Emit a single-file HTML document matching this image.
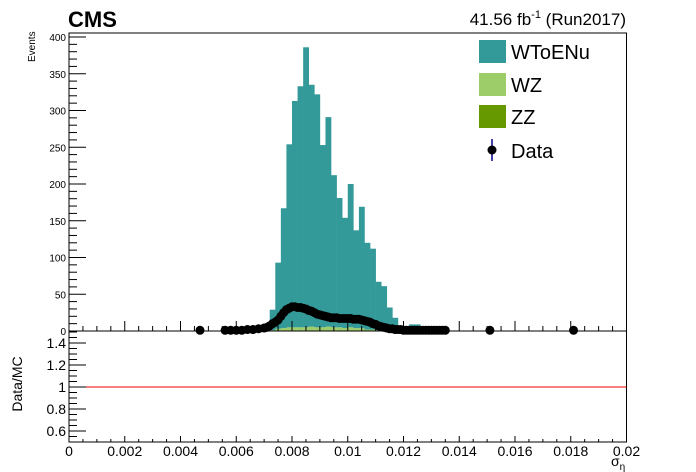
<!DOCTYPE html>
<html><head><meta charset="utf-8"><style>
html,body{margin:0;padding:0;background:#fff}
svg{display:block;font-family:"Liberation Sans",sans-serif}
</style></head><body>
<svg id="c" width="696" height="472" viewBox="0 0 696 472" xmlns="http://www.w3.org/2000/svg">
<text x="68" y="27" font-size="22" font-weight="bold">CMS</text>
<text x="626" y="25" font-size="17" text-anchor="end">41.56 fb<tspan dy="-7" font-size="11">-1</tspan><tspan dy="7"> (Run2017)</tspan></text>
<text transform="translate(35,62) rotate(-90)" font-size="10">Events</text>
<text transform="translate(22,384) rotate(-90)" font-size="14" text-anchor="middle">Data/MC</text>
<text x="611" y="466" font-size="14">σ<tspan dy="4" font-size="10">η</tspan></text>
<g id="bars"></g><g id="data"></g><g id="axes"></g>
<g>
<rect x="479" y="40" width="27" height="23" fill="#339a99"/>
<text x="511" y="59" font-size="20">WToENu</text>
<rect x="479" y="73" width="27" height="23" fill="#9ccd68"/>
<text x="511" y="92" font-size="20">WZ</text>
<rect x="479" y="105" width="27" height="23" fill="#669900"/>
<text x="511" y="124" font-size="20">ZZ</text>
<line x1="492" y1="139" x2="492" y2="161" stroke="#00008b" stroke-width="1.5"/>
<circle cx="492" cy="150" r="4.5" fill="#000"/>
<text x="511" y="158" font-size="20">Data</text>
</g>
</svg>
<script>
const binStart = 33; // first bin index (bin width 0.0002)
const wtoenu = [3,3,6,28,90,163,249,308,328,381,329,317,248,285,207,176,150,195,133,165,118,110,66,60,32,18,6,1,9,9];
const wz = [0,0,0,1,2,3,4,4,4,4,5,4,4,5,4,4,3,4,3,3,2,2,1,1,0,0,0,0,0,0];
const zz = [0,0,0,0,1,1,1,1,1,1,1,1,1,1,1,1,1,1,1,1,0,0,0,0,0,0,0,0,0,0];
const dataX = [0.0047,0.0056,0.0058,0.0060,0.0062,0.0064,0.0066,0.0068,0.0070,0.0071,0.0072,0.0073,0.0074,0.0075,0.0076,0.0077,0.0078,0.0079,0.0080,0.0081,0.0082,0.0083,0.0084,0.0085,0.0086,0.0087,0.0088,0.0089,0.0090,0.0091,0.0092,0.0093,0.0094,0.0095,0.0096,0.0097,0.0098,0.0099,0.0100,0.0101,0.0102,0.0103,0.0104,0.0105,0.0106,0.0107,0.0108,0.0109,0.0110,0.0111,0.0112,0.0113,0.0114,0.0115,0.0116,0.0117,0.0118,0.0119,0.0120,0.0121,0.0122,0.0123,0.0124,0.0125,0.0126,0.0127,0.0128,0.0129,0.0130,0.0131,0.0132,0.0133,0.0134,0.0135,0.0151,0.0181];
const dataY = [1,1,1,1,1,2,2,3,4,5,7,10,12,15,20,25,29,31,33,33,32,32,31,30,28,27,25,23,22,21,20,19,18,18,18,17,17,17,17,17,16,16,16,15,14,13,12,10,9,7,6,5,4,3,3,2,2,2,1,1,1,1,1,1,1,1,1,1,1,1,1,1,1,1,1,1];
const yTicks = [0,50,100,150,200,250,300,350,400];
const rTicks = [0.6,0.8,1,1.2,1.4];
const xTicks = [0,0.002,0.004,0.006,0.008,0.01,0.012,0.014,0.016,0.018,0.02];
const xTickLabels = ["0","0.002","0.004","0.006","0.008","0.01","0.012","0.014","0.016","0.018","0.02"];

const NS="http://www.w3.org/2000/svg";
const X0=69,X1=626.5,Y0=331,YT=33,RB=442,RT=331;
const xs=v=>X0+v/0.02*(X1-X0);
const ys=v=>Y0-v*0.735;
const rs=r=>387-(r-1)*110;
function mk(tag,attrs,parent){const e=document.createElementNS(NS,tag);for(const k in attrs)e.setAttribute(k,attrs[k]);parent.appendChild(e);return e;}
const bars=document.getElementById('bars'),dg=document.getElementById('data'),ax=document.getElementById('axes');
const bw=0.0002;
wtoenu.forEach((w,i)=>{
  const x0=xs((binStart+i)*bw),x1=xs((binStart+i+1)*bw);
  const a=zz[i],b=a+wz[i],c=b+w;
  if(zz[i]>0){const r=mk('rect',{x:x0,y:ys(a),width:x1-x0,height:ys(0)-ys(a),fill:'#669900'},bars);
    
    }
  if(wz[i]>0){const r=mk('rect',{x:x0,y:ys(b),width:x1-x0,height:ys(a)-ys(b),fill:'#9ccd68'},bars);
    
    }
  if(w>0){const r=mk('rect',{x:x0,y:ys(c),width:x1-x0+0.3,height:ys(b)-ys(c),fill:'#339a99'},bars);
    
    }
});
dataX.forEach((x,i)=>{
  const c=mk('circle',{cx:xs(x),cy:ys(dataY[i]),r:4.5,fill:'#000'},dg);
  
  
});
let f=mk('rect',{x:X0,y:YT,width:X1-X0,height:Y0-YT,fill:'none',stroke:'#000','stroke-width':1},ax);


f=mk('rect',{x:X0,y:RT,width:X1-X0,height:RB-RT,fill:'none',stroke:'#000','stroke-width':1},ax);


const one=mk('line',{x1:X0,x2:X1,y1:rs(1),y2:rs(1),stroke:'#e00','stroke-width':1},ax);


for(let v=0;v<=400;v+=10){const L=(v%50===0)?17:8;mk('line',{x1:X0,x2:X0+L,y1:ys(v),y2:ys(v),stroke:'#000'},ax);}
yTicks.forEach(v=>{const t=mk('text',{x:X0-3,y:ys(v)+4,'font-size':10,'text-anchor':'end'},ax);t.textContent=v;
  
  });
for(let k=0;k<=20;k++){const r=0.5+k*0.05;const maj=Math.abs((r*10)%2)<0.01||Math.abs((r*10)%2-2)<0.01;mk('line',{x1:X0,x2:X0+(maj?17:8),y1:rs(r),y2:rs(r),stroke:'#000'},ax);}
rTicks.forEach(v=>{const t=mk('text',{x:X0-3,y:rs(v)+5,'font-size':14,'text-anchor':'end'},ax);t.textContent=String(v);
  
  });
for(let k=0;k<=40;k++){const v=k*0.0005;const maj=k%4===0;const L=maj?10:5;
  mk('line',{x1:xs(v),x2:xs(v),y1:Y0,y2:Y0-L,stroke:'#000'},ax);
  mk('line',{x1:xs(v),x2:xs(v),y1:RB,y2:RB-(maj?6:3),stroke:'#000'},ax);}
xTicks.forEach((v,i)=>{const t=mk('text',{x:xs(v),y:456,'font-size':14,'text-anchor':'middle'},ax);t.textContent=xTickLabels[i];
  
  });
</script>
</body></html>
